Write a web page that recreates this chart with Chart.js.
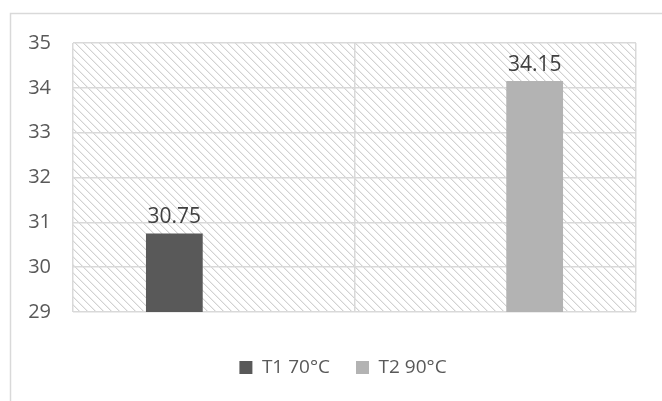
<!DOCTYPE html>
<html>
<head>
<meta charset="utf-8">
<script src="https://cdn.jsdelivr.net/npm/chart.js@4/dist/chart.umd.min.js"></script>
<style>
  html, body { margin: 0; padding: 0; background: #fff; }
  #wrap { width: 662px; height: 401px; }
</style>
</head>
<body>
<div id="wrap"><canvas id="c" width="662" height="401"></canvas></div>
<script>
const categories = ["T1", "T2"];
const seriesNames = ["T1 70°C", "T2 90°C"];
const t1Values = [30.75, null];
const t2Values = [null, 34.15];
const yTicks = [29, 30, 31, 32, 33, 34, 35];

const FONT = "'Open Sans', 'Noto Sans', sans-serif";

// motif hachuré du fond
function makeHatch() {
  const p = document.createElement("canvas");
  p.width = 8; p.height = 8;
  const g = p.getContext("2d");
  for (let i = 0; i < 8; i++) {
    g.fillStyle = "#d2d2d2";
    g.fillRect(i, i, 1, 1);
    g.fillStyle = "#eeeeee";
    g.fillRect((i + 1) % 8, i, 1, 1);
  }
  return p;
}

const hatchBg = {
  id: "hatchBg",
  afterLayout(chart) {
    // légende un peu décalée vers la droite, comme dans Excel
    chart.legend.left += 20;
    chart.legend.right += 20;
  },
  beforeDraw(chart) {
    const { ctx, chartArea: a } = chart;
    ctx.save();
    // cadre extérieur
    ctx.strokeStyle = "#d9d9d9";
    ctx.lineWidth = 1.5;
    ctx.beginPath();
    ctx.moveTo(10.5, 401);
    ctx.lineTo(10.5, 13.5);
    ctx.lineTo(662, 13.5);
    ctx.stroke();
    ctx.fillStyle = ctx.createPattern(makeHatch(), "repeat");
    ctx.fillRect(a.left, a.top, a.right - a.left, a.bottom - a.top);
    ctx.restore();
  }
};

const valueLabels = {
  id: "valueLabels",
  afterDatasetsDraw(chart) {
    const ctx = chart.ctx;
    ctx.save();
    ctx.font = "21px " + FONT;
    ctx.fillStyle = "#404040";
    ctx.textAlign = "center";
    ctx.textBaseline = "bottom";
    chart.data.datasets.forEach((ds, di) => {
      chart.getDatasetMeta(di).data.forEach((bar, i) => {
        if (ds.data[i] == null) return;
        ctx.fillText(ds.data[i].toFixed(2), bar.x, bar.y - 6);
      });
    });
    ctx.restore();
  }
};

new Chart(document.getElementById("c"), {
  type: "bar",
  data: {
    labels: categories,
    datasets: [
      {
        label: seriesNames[0],
        data: t1Values,
        backgroundColor: "#595959",
        categoryPercentage: 0.56,
        barPercentage: 0.72
      },
      {
        label: seriesNames[1],
        data: t2Values,
        backgroundColor: "#b3b3b3",
        categoryPercentage: 0.56,
        barPercentage: 0.72
      }
    ]
  },
  options: {
    responsive: false,
    animation: false,
    layout: { padding: { left: 10, top: 43, right: 26, bottom: 14 } },
    plugins: {
      tooltip: { enabled: false },
      legend: {
        position: "bottom",
        labels: {
          font: { family: FONT, size: 19 },
          color: "#595959",
          boxWidth: 13,
          boxHeight: 13,
          padding: 26
        }
      }
    },
    scales: {
      x: {
        grid: { color: "#d9d9d9", lineWidth: 1.5, drawTicks: false, offset: true },
        border: { display: false },
        ticks: { display: false },
        afterFit(s) { s.height = 20; }
      },
      y: {
        min: 29,
        max: 35,
        afterBuildTicks(s) { s.ticks = yTicks.map(v => ({ value: v })); },
        grid: { color: "#d9d9d9", lineWidth: 1.5, drawTicks: false },
        border: { display: false },
        ticks: {
          font: { family: FONT, size: 20 },
          color: "#595959",
          padding: 22
        },
        afterFit(s) { s.width = 63; }
      }
    }
  },
  plugins: [hatchBg, valueLabels]
});
</script>
</body>
</html>
